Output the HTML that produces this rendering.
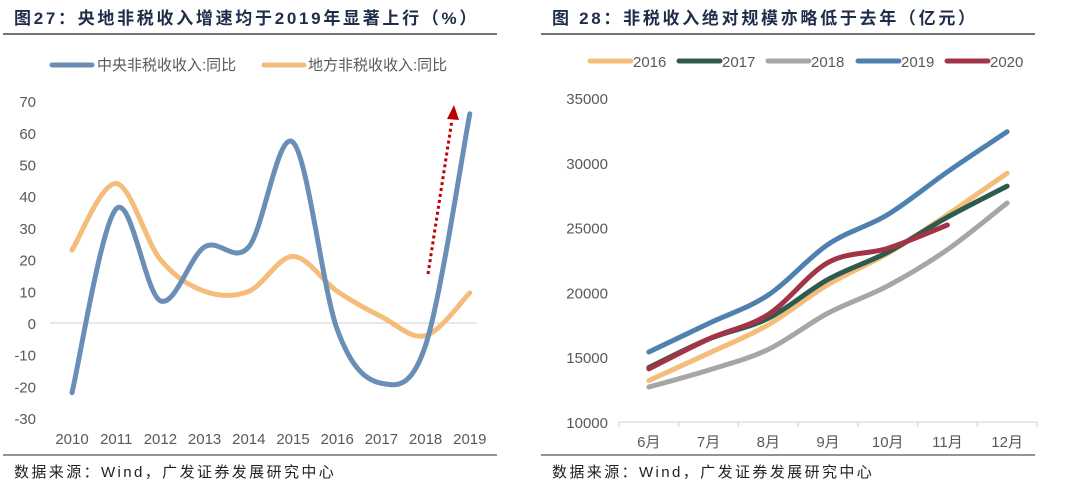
<!DOCTYPE html>
<html><head><meta charset="utf-8"><style>
html,body{margin:0;padding:0;background:#fff;}
svg{display:block;font-family:"Liberation Sans","Noto Sans CJK SC",sans-serif;}
</style></head><body>
<svg id="s" width="1080" height="486" viewBox="0 0 1080 486">
<g>
<text x="14" y="24" font-size="17" font-weight="bold" fill="#1f2d4a" letter-spacing="2.7">图27：央地非税收入增速均于2019年显著上行（%）</text>
<line x1="3" y1="34" x2="497" y2="34" stroke="#222" stroke-width="1.2"/>
<line x1="3" y1="455" x2="497" y2="455" stroke="#555" stroke-width="1.2"/>
<text x="14" y="477" font-size="15" fill="#222" letter-spacing="2.4">数据来源：Wind，广发证券发展研究中心</text>
<line x1="52" y1="65" x2="92" y2="65" stroke="#6a8fb6" stroke-width="5" stroke-linecap="round"/>
<text x="97" y="70" font-size="15" fill="#595959">中央非税收收入:同比</text>
<line x1="264" y1="65" x2="304" y2="65" stroke="#f5bd7b" stroke-width="5" stroke-linecap="round"/>
<text x="308" y="70" font-size="15" fill="#595959">地方非税收收入:同比</text>
<g id="lchart"></g>
</g>
<g>
<text x="552" y="24" font-size="17" font-weight="bold" fill="#1f2d4a" letter-spacing="2.7">图 28：非税收入绝对规模亦略低于去年（亿元）</text>
<line x1="541" y1="34" x2="1035" y2="34" stroke="#222" stroke-width="1.2"/>
<line x1="541" y1="455" x2="1035" y2="455" stroke="#555" stroke-width="1.2"/>
<text x="552" y="477" font-size="15" fill="#222" letter-spacing="2.4">数据来源：Wind，广发证券发展研究中心</text>
<g id="rlegend"></g>
<g id="rchart"></g>
</g>
</svg>
<script>
const leftYears = ['2010','2011','2012','2013','2014','2015','2016','2017','2018','2019'];
const centralVals = [-22, 36, 7, 24, 24, 57, -2, -19, -7, 66];
const localVals = [23, 44, 20, 10, 10, 21, 10, 2, -4, 9.5];
const leftTicks = [70,60,50,40,30,20,10,0,-10,-20,-30];

const months = ['6月','7月','8月','9月','10月','11月','12月'];
const s2016 = [13200,15300,17500,20600,23000,26000,29200];
const s2017 = [14200,16400,18000,21000,23100,25800,28200];
const s2018 = [12700,14000,15600,18400,20500,23300,26900];
const s2019 = [15400,17600,19800,23700,26000,29300,32400];
const s2020 = [14100,16400,18300,22300,23400,25200];
const rightTicks = [35000,30000,25000,20000,15000,10000];

const NS='http://www.w3.org/2000/svg';
function mk(parent,tag,attrs,text){const e=document.createElementNS(NS,tag);for(const k in attrs)e.setAttribute(k,attrs[k]);if(text!==undefined)e.textContent=text;parent.appendChild(e);return e;}
function smooth(pts){let d='M'+pts[0][0]+','+pts[0][1];for(let i=0;i<pts.length-1;i++){const p0=pts[i-1]||pts[i],p1=pts[i],p2=pts[i+1],p3=pts[i+2]||p2;const t=1/6;d+=' C'+(p1[0]+(p2[0]-p0[0])*t)+','+(p1[1]+(p2[1]-p0[1])*t)+' '+(p2[0]-(p3[0]-p1[0])*t)+','+(p2[1]-(p3[1]-p1[1])*t)+' '+p2[0]+','+p2[1];}return d;}

// Left chart
const L=document.getElementById('lchart');
const lx=i=>72+i*44.2;
const ly=v=>323-v*3.17;
leftTicks.forEach(t=>{const e=mk(L,'text',{x:36,y:ly(t)+6,'font-size':15,fill:'#595959','text-anchor':'end'},String(t));

});
const zl=mk(L,'line',{x1:50,y1:ly(0),x2:477,y2:ly(0),stroke:'#d9d9d9','stroke-width':1.2});


leftYears.forEach((y,i)=>{const e=mk(L,'text',{x:lx(i),y:444,'font-size':15,fill:'#595959','text-anchor':'middle'},y);

});
const lc=mk(L,'path',{d:smooth(localVals.map((v,i)=>[lx(i),ly(v)])),fill:'none',stroke:'#f5bd7b','stroke-width':5,'stroke-linecap':'round'});


const cc=mk(L,'path',{d:smooth(centralVals.map((v,i)=>[lx(i),ly(v)])),fill:'none',stroke:'#6a8fb6','stroke-width':5,'stroke-linecap':'round'});


const ar=mk(L,'line',{x1:428,y1:274,x2:452,y2:120,stroke:'#c00000','stroke-width':3,'stroke-dasharray':'3,3'});


const ah=mk(L,'polygon',{points:'454,105 447,119 459,120',fill:'#c00000'});



// Right chart
const R=document.getElementById('rchart');
const x0=619,x1=1037,cw=(x1-x0)/7;
const rx=i=>x0+cw*(i+0.5);
const ry=v=>422-(v-10000)/5000*64.8;
rightTicks.forEach(t=>{const e=mk(R,'text',{x:608,y:ry(t)+6,'font-size':15,fill:'#595959','text-anchor':'end'},String(t));

});
const ax=mk(R,'line',{x1:x0,y1:422,x2:x1,y2:422,stroke:'#d9d9d9','stroke-width':1.2});


for(let i=0;i<=7;i++){const tk=mk(R,'line',{x1:x0+cw*i,y1:422,x2:x0+cw*i,y2:427,stroke:'#d9d9d9','stroke-width':1.2});

}
months.forEach((m,i)=>{const e=mk(R,'text',{x:rx(i),y:447,'font-size':15,fill:'#595959','text-anchor':'middle'},m);

});
const series=[['2016',s2016,'#f5bd7b'],['2017',s2017,'#2e5b50'],['2018',s2018,'#a6a6a6'],['2019',s2019,'#4f81b0'],['2020',s2020,'#a33446']];
const drawOrder=[2,0,1,3,4];
drawOrder.forEach(k=>{const [n,vals,c]=series[k];const p=mk(R,'path',{d:smooth(vals.map((v,i)=>[rx(i),ry(v)])),fill:'none',stroke:c,'stroke-width':5,'stroke-linecap':'round'});

});
const RL=document.getElementById('rlegend');
const lgx=[590,679,768,858,947];
series.forEach(([n,vals,c],k)=>{const l=mk(RL,'line',{x1:lgx[k],y1:61,x2:lgx[k]+41,y2:61,stroke:c,'stroke-width':5,'stroke-linecap':'round'});


const t=mk(RL,'text',{x:lgx[k]+43,y:67,'font-size':15,fill:'#595959'},n);

});
</script>
</body></html>
